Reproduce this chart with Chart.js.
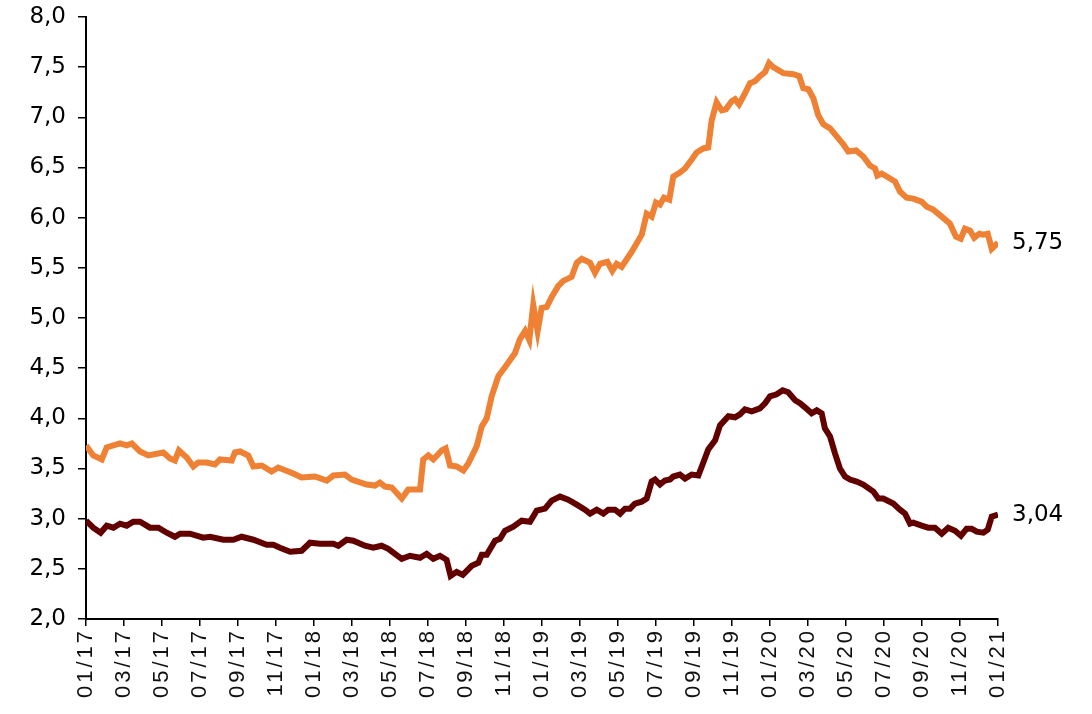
<!DOCTYPE html>
<html>
<head>
<meta charset="utf-8">
<script src="https://cdn.jsdelivr.net/npm/chart.js@4/dist/chart.umd.min.js"></script>
<style>
  html, body { margin: 0; padding: 0; background: #fff; }
  canvas { display: block; }
</style>
</head>
<body>
<canvas id="lineChart" width="1092" height="714"></canvas>
<script>
// months since 01/17 and rates
var orangeT = [0,0.38,0.83,1.09,1.79,2.14,2.41,2.84,3.28,4.07,
  4.42,4.68,4.89,5.30,5.65,5.91,6.35,6.79,7.05,7.67,
  7.84,8.11,8.54,8.81,9.25,9.77,10.12,10.91,11.35,12.05,
  12.67,13.02,13.63,13.98,14.77,15.21,15.47,15.74,16.09,16.62,
  16.96,17.58,17.75,18.02,18.28,18.72,18.93,19.16,19.51,19.86,
  20.12,20.56,20.83,21.09,21.35,21.70,22.05,22.58,22.84,23.11,
  23.33,23.54,23.77,23.98,24.25,24.51,24.86,25.12,25.56,25.83,
  26.09,26.53,26.79,27.05,27.44,27.70,27.93,28.19,28.72,29.25,
  29.51,29.77,30.00,30.21,30.42,30.70,30.91,31.26,31.53,31.88,
  32.14,32.49,32.75,32.93,33.19,33.46,33.68,33.98,34.16,34.37,
  34.63,34.95,35.21,35.47,35.74,35.95,36.17,36.70,37.23,37.54,
  37.75,38.02,38.28,38.54,38.81,39.16,39.51,39.86,40.12,40.53,
  40.91,41.26,41.53,41.65,41.88,42.23,42.58,42.84,43.19,43.54,
  43.98,44.25,44.59,45.04,45.47,45.79,46.04,46.26,46.53,46.75,
  47.02,47.23,47.46,47.67,48.00];
var orangeV = [3.73,3.63,3.59,3.71,3.75,3.73,3.75,3.67,3.63,3.66,
  3.60,3.58,3.68,3.61,3.52,3.56,3.56,3.54,3.59,3.58,
  3.66,3.67,3.63,3.52,3.53,3.47,3.51,3.45,3.41,3.42,
  3.38,3.43,3.44,3.39,3.34,3.33,3.36,3.32,3.31,3.20,
  3.29,3.29,3.59,3.63,3.59,3.68,3.70,3.53,3.52,3.48,
  3.55,3.72,3.92,4.00,4.22,4.42,4.51,4.65,4.79,4.87,
  4.78,5.13,4.87,5.10,5.11,5.21,5.32,5.37,5.41,5.55,
  5.59,5.55,5.45,5.54,5.56,5.47,5.54,5.51,5.66,5.83,
  6.04,6.01,6.15,6.13,6.20,6.18,6.41,6.45,6.49,6.58,
  6.65,6.69,6.70,6.97,7.15,7.07,7.08,7.16,7.18,7.13,
  7.22,7.34,7.36,7.41,7.45,7.54,7.50,7.44,7.43,7.41,
  7.29,7.28,7.19,7.02,6.93,6.89,6.81,6.73,6.66,6.67,
  6.61,6.52,6.49,6.42,6.44,6.40,6.36,6.26,6.20,6.19,
  6.16,6.11,6.08,6.01,5.94,5.81,5.79,5.89,5.87,5.80,
  5.84,5.83,5.84,5.69,5.75];

var brownT = [0,0.38,0.77,1.09,1.44,1.79,2.14,2.49,2.84,3.37,
  3.81,4.25,4.68,4.95,5.47,6.17,6.53,7.23,7.75,8.19,
  8.81,9.51,9.86,10.21,10.74,11.35,11.79,12.32,13.02,13.28,
  13.72,14.07,14.68,15.12,15.56,15.91,16.26,16.62,17.05,17.58,
  17.93,18.28,18.63,18.98,19.19,19.51,19.83,20.30,20.65,20.83,
  21.09,21.53,21.79,22.05,22.49,22.93,23.37,23.72,24.16,24.51,
  24.95,25.38,25.83,26.26,26.53,26.88,27.23,27.49,27.84,28.11,
  28.37,28.63,28.89,29.25,29.51,29.77,29.95,30.21,30.47,30.74,
  30.91,31.26,31.53,31.88,32.23,32.49,32.75,33.11,33.37,33.81,
  34.16,34.42,34.68,35.04,35.47,35.74,36.00,36.35,36.67,36.96,
  37.32,37.58,37.84,38.19,38.46,38.72,38.89,39.16,39.42,39.68,
  39.95,40.21,40.56,40.91,41.44,41.70,41.96,42.49,42.84,43.11,
  43.37,43.54,43.98,44.33,44.68,45.04,45.38,45.74,46.05,46.35,
  46.61,46.88,47.23,47.46,47.67,48.00];
var brownV = [2.98,2.91,2.86,2.93,2.91,2.95,2.93,2.97,2.97,2.91,
  2.91,2.86,2.82,2.85,2.85,2.81,2.82,2.79,2.79,2.82,
  2.79,2.74,2.74,2.71,2.67,2.68,2.76,2.75,2.75,2.73,
  2.79,2.78,2.73,2.71,2.73,2.70,2.65,2.60,2.63,2.61,
  2.65,2.60,2.63,2.59,2.43,2.47,2.44,2.53,2.56,2.64,
  2.64,2.78,2.80,2.88,2.92,2.98,2.97,3.08,3.10,3.18,
  3.22,3.19,3.14,3.09,3.05,3.09,3.05,3.09,3.09,3.05,
  3.10,3.10,3.15,3.17,3.20,3.37,3.39,3.34,3.38,3.39,
  3.42,3.44,3.40,3.44,3.43,3.56,3.69,3.78,3.93,4.02,
  4.01,4.04,4.09,4.07,4.10,4.15,4.22,4.24,4.28,4.26,
  4.18,4.15,4.11,4.05,4.08,4.05,3.90,3.82,3.65,3.50,
  3.42,3.39,3.37,3.34,3.27,3.20,3.20,3.15,3.09,3.05,
  2.95,2.96,2.93,2.91,2.91,2.85,2.91,2.88,2.83,2.90,
  2.90,2.87,2.86,2.89,3.02,3.04];

var yMin = 2, yMax = 8, yStep = 0.5;
var monthStep = 2;   // tick every 2 months, 01/17 .. 01/21
var firstYear = 17;

function pts(t, v) {
    var out = [];
    for (var i = 0; i < t.length; i++) out.push({x: t[i], y: v[i]});
    return out;
}
function comma(v, d) { return v.toFixed(d).replace('.', ','); }

// spaced-out date labels (x labels are drawn before the lines, y labels after)
var endLabels = {
    id: 'endLabels',
    beforeDraw: function(chart) { chart.ctx.letterSpacing = '3px'; },
    beforeDatasetsDraw: function(chart) { chart.ctx.letterSpacing = '0px'; },
    afterDatasetsDraw: function(chart) {
        var ctx = chart.ctx;
        var xs = chart.scales.x, ys = chart.scales.y;
        ctx.save();
        ctx.font = '23px "DejaVu Sans"';
        ctx.fillStyle = '#000';
        ctx.textBaseline = 'middle';
        ctx.textAlign = 'left';
        chart.data.datasets.forEach(function(ds) {
            var last = ds.data[ds.data.length - 1];
            ctx.fillText(comma(last.y, 2), xs.getPixelForValue(last.x) + 14, ys.getPixelForValue(last.y));
        });
        ctx.restore();
    }
};

var ctxL = document.getElementById('lineChart').getContext('2d');
var myLineChart = new Chart(ctxL, {
    type: 'line',
    data: {
        datasets: [{
            label: 'orange',
            data: pts(orangeT, orangeV),
            borderColor: '#EE8133',
            borderWidth: 6,
            pointRadius: 0,
            tension: 0,
            fill: false
        },
        {
            label: 'brown',
            data: pts(brownT, brownV),
            borderColor: '#620000',
            borderWidth: 6,
            pointRadius: 0,
            tension: 0,
            fill: false
        }]
    },
    options: {
        responsive: false,
        animation: false,
        devicePixelRatio: 1,
        layout: { padding: { top: 17, right: 94, left: 0, bottom: 0 } },
        plugins: { legend: { display: false }, tooltip: { enabled: false } },
        scales: {
            x: {
                type: 'linear',
                min: 0,
                max: 48,
                afterFit: function(s) { s.height = 95; s.paddingLeft = 0; s.paddingRight = 0; },
                grid: { drawOnChartArea: false, tickLength: 7, color: '#000', lineWidth: 1.5 },
                border: { color: '#000', width: 2 },
                ticks: {
                    stepSize: monthStep,
                    autoSkip: false,
                    minRotation: 90,
                    maxRotation: 90,
                    padding: 2,
                    color: '#111',
                    font: { family: 'Liberation Sans', size: 22 },
                    callback: function(v) {
                        var m = (v % 12) + 1;
                        var y = firstYear + Math.floor(v / 12);
                        return (m < 10 ? '0' + m : m) + '/' + y;
                    }
                }
            },
            y: {
                min: yMin,
                max: yMax,
                afterFit: function(s) { s.width = 86; s.paddingTop = 0; s.paddingBottom = 0; },
                grid: { drawOnChartArea: false, tickLength: 8, color: '#000', lineWidth: 1.5 },
                border: { color: '#000', width: 2 },
                ticks: {
                    z: 1,
                    stepSize: yStep,
                    padding: 12,
                    color: '#000',
                    font: { family: 'DejaVu Sans', size: 23 },
                    callback: function(v) { return comma(v, 1); }
                }
            }
        }
    },
    plugins: [endLabels]
});
</script>
</body>
</html>
